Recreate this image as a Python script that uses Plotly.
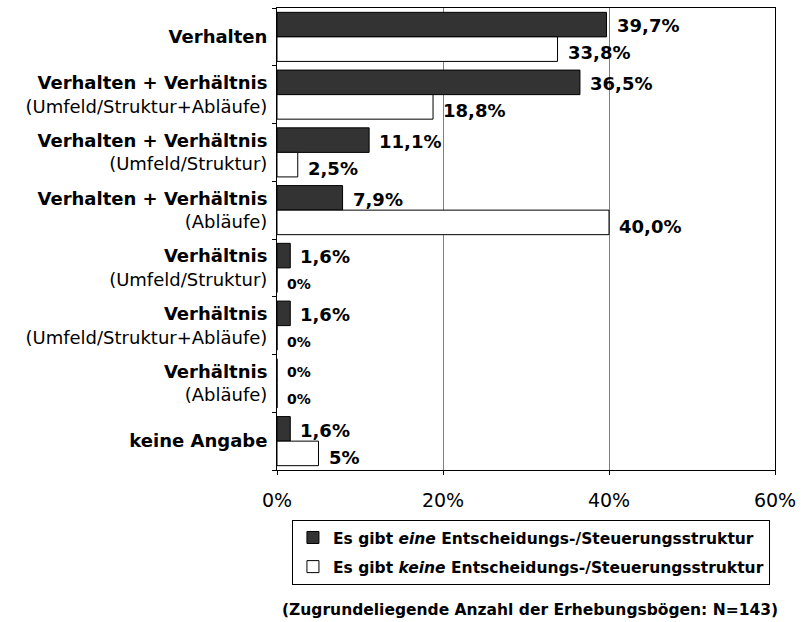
import plotly.graph_objects as go

categories = [
    "Verhalten",
    "Verhalten + Verhältnis|(Umfeld/Struktur+Abläufe)",
    "Verhalten + Verhältnis|(Umfeld/Struktur)",
    "Verhalten + Verhältnis|(Abläufe)",
    "Verhältnis|(Umfeld/Struktur)",
    "Verhältnis|(Umfeld/Struktur+Abläufe)",
    "Verhältnis|(Abläufe)",
    "keine Angabe",
]
series_eine = [39.7, 36.5, 11.1, 7.9, 1.6, 1.6, 0.0, 1.6]
series_keine = [33.8, 18.8, 2.5, 40.0, 0.0, 0.0, 0.0, 5.0]
labels_eine = ["39,7%", "36,5%", "11,1%", "7,9%", "1,6%", "1,6%", "0%", "1,6%"]
labels_keine = ["33,8%", "18,8%", "2,5%", "40,0%", "0%", "0%", "0%", "5%"]
x_ticks = [0, 20, 40, 60]
x_ticklabels = ["0%", "20%", "40%", "60%"]
name_eine = "<b>Es gibt <i>eine</i> Entscheidungs-/Steuerungsstruktur</b>"
name_keine = "<b>Es gibt <i>keine</i> Entscheidungs-/Steuerungsstruktur</b>"
footnote = "<b>(Zugrundeliegende Anzahl der Erhebungsbögen: N=143)</b>"

FONT = "DejaVu Sans"


def tick_text(c):
    parts = c.split("|")
    t = "<b>" + parts[0] + "</b>"
    if len(parts) > 1:
        t += "<br>" + parts[1]
    return t


fig = go.Figure()
fig.add_trace(go.Bar(
    y=categories, x=series_eine, orientation="h", name=name_eine,
    marker=dict(color="#333333", line=dict(color="#000000", width=1)),
    legendgroup="a", hoverinfo="skip",
))
fig.add_trace(go.Bar(
    y=categories, x=series_keine, orientation="h", name=name_keine,
    marker=dict(color="#ffffff", line=dict(color="#000000", width=1)),
    legendgroup="b", hoverinfo="skip",
))

annotations = []
for vals, labs, ys in ((series_eine, labels_eine, 11), (series_keine, labels_keine, -16)):
    for c, v, l in zip(categories, vals, labs):
        size = 14 if v == 0 else 18
        annotations.append(dict(
            x=v, y=c, xref="x", yref="y", text="<b>" + l + "</b>",
            showarrow=False, xanchor="left", yanchor="middle",
            xshift=8, yshift=ys,
            font=dict(family=FONT, size=size, color="#000000"),
        ))

annotations.append(dict(
    x=0.508, y=-0.303, xref="paper", yref="paper", text=footnote,
    showarrow=False, xanchor="center", yanchor="middle",
    font=dict(family=FONT, size=15.5, color="#000000"),
))

fig.update_layout(
    width=808, height=622,
    margin=dict(l=277, r=33, t=8, b=152),
    paper_bgcolor="#ffffff", plot_bgcolor="#ffffff",
    barmode="group", bargap=0.15, bargroupgap=0,
    font=dict(family=FONT, size=18, color="#000000"),
    showlegend=True,
    legend=dict(
        x=0.030, y=-0.108, xanchor="left", yanchor="top",
        bordercolor="#000000", borderwidth=1,
        font=dict(family=FONT, size=15.5, color="#000000"),
        traceorder="grouped", tracegroupgap=6,
    ),
    annotations=annotations,
)
fig.update_xaxes(
    range=[0, 60], tickvals=x_ticks, ticktext=x_ticklabels,
    showgrid=True, gridcolor="#808080", gridwidth=1, zeroline=False,
    showline=True, linecolor="#000000", linewidth=1, mirror=True,
    ticks="outside", ticklen=4, tickcolor="#000000",
    tickfont=dict(family=FONT, size=19, color="#000000"),
    ticklabelstandoff=9,
)
fig.update_yaxes(
    autorange="reversed", tickmode="array",
    tickvals=categories, ticktext=[tick_text(c) for c in categories],
    tickson="boundaries", ticks="outside", ticklen=4, tickcolor="#000000",
    showgrid=False, zeroline=False,
    showline=True, linecolor="#000000", linewidth=1, mirror=True,
    tickfont=dict(family=FONT, size=18, color="#000000"),
    ticklabelstandoff=5,
)

fig.write_html(
    "out.html",
    config={"displayModeBar": False},
    post_script="document.body.style.margin='0px';",
)
